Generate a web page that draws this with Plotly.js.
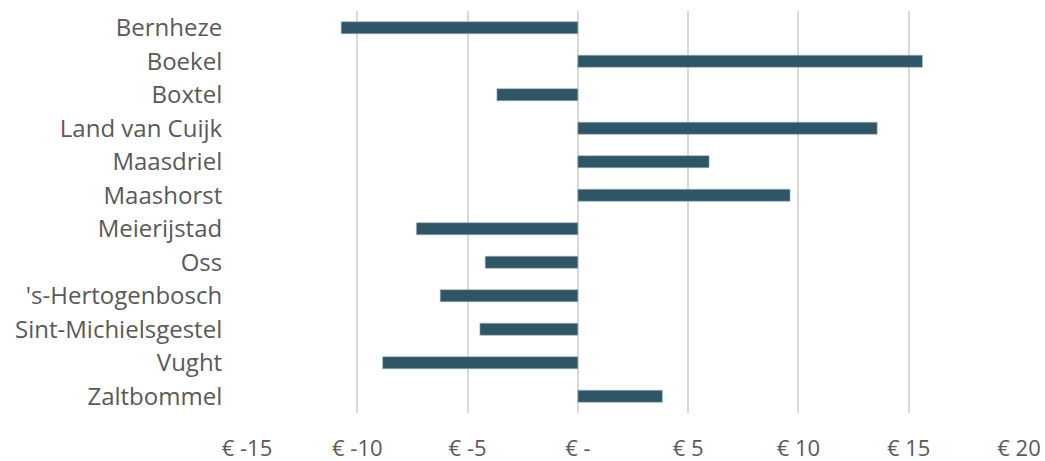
<!DOCTYPE html>
<html>
<head>
<meta charset="utf-8">
<script src="https://cdn.plot.ly/plotly-3.0.1.min.js"></script>
<style>html,body{margin:0;padding:0;background:#fff;}#chart{width:1045px;height:461px;}</style>
</head>
<body>
<div id="chart"></div>
<script>
const categories = ["Bernheze","Boekel","Boxtel","Land van Cuijk","Maasdriel","Maashorst","Meierijstad","Oss","'s-Hertogenbosch","Sint-Michielsgestel","Vught","Zaltbommel"];
const values = [-10.73, 15.62, -3.67, 13.57, 5.95, 9.62, -7.32, -4.20, -6.24, -4.44, -8.85, 3.83];
const tickVals = [-15, -10, -5, 0, 5, 10, 15, 20];
const tickText = ["€ -15", "€ -10", "€ -5", "€ -", "€ 5", "€ 10", "€ 15", "€ 20"];

const trace = {
  type: 'bar',
  orientation: 'h',
  y: categories,
  x: values,
  marker: {color: '#2f5666', line: {color: '#9fb2ba', width: 0.6}},
  hoverinfo: 'skip'
};

const layout = {
  width: 1045, height: 461,
  margin: {l: 247, r: 26, t: 11, b: 48},
  paper_bgcolor: '#fff', plot_bgcolor: '#fff',
  showlegend: false,
  bargap: 0.64,
  font: {family: '"Open Sans", sans-serif', color: '#595959', size: 18},
  xaxis: {
    range: [-15, 20],
    tickvals: tickVals, ticktext: tickText,
    showgrid: true, gridcolor: '#d9d9d9', gridwidth: 2,
    zeroline: true, zerolinecolor: '#d9d9d9', zerolinewidth: 2,
    showline: false,
    ticks: 'outside', ticklen: 16, tickcolor: 'rgba(0,0,0,0)',
    tickfont: {size: 22, color: '#595959'},
    fixedrange: true
  },
  yaxis: {
    autorange: 'reversed',
    type: 'category',
    showgrid: false, zeroline: false, showline: false,
    ticks: 'outside', ticklen: 19, tickcolor: 'rgba(0,0,0,0)',
    tickfont: {size: 24, color: '#595959'},
    fixedrange: true
  }
};

Plotly.newPlot('chart', [trace], layout, {displayModeBar: false, staticPlot: true});
</script>
</body>
</html>
